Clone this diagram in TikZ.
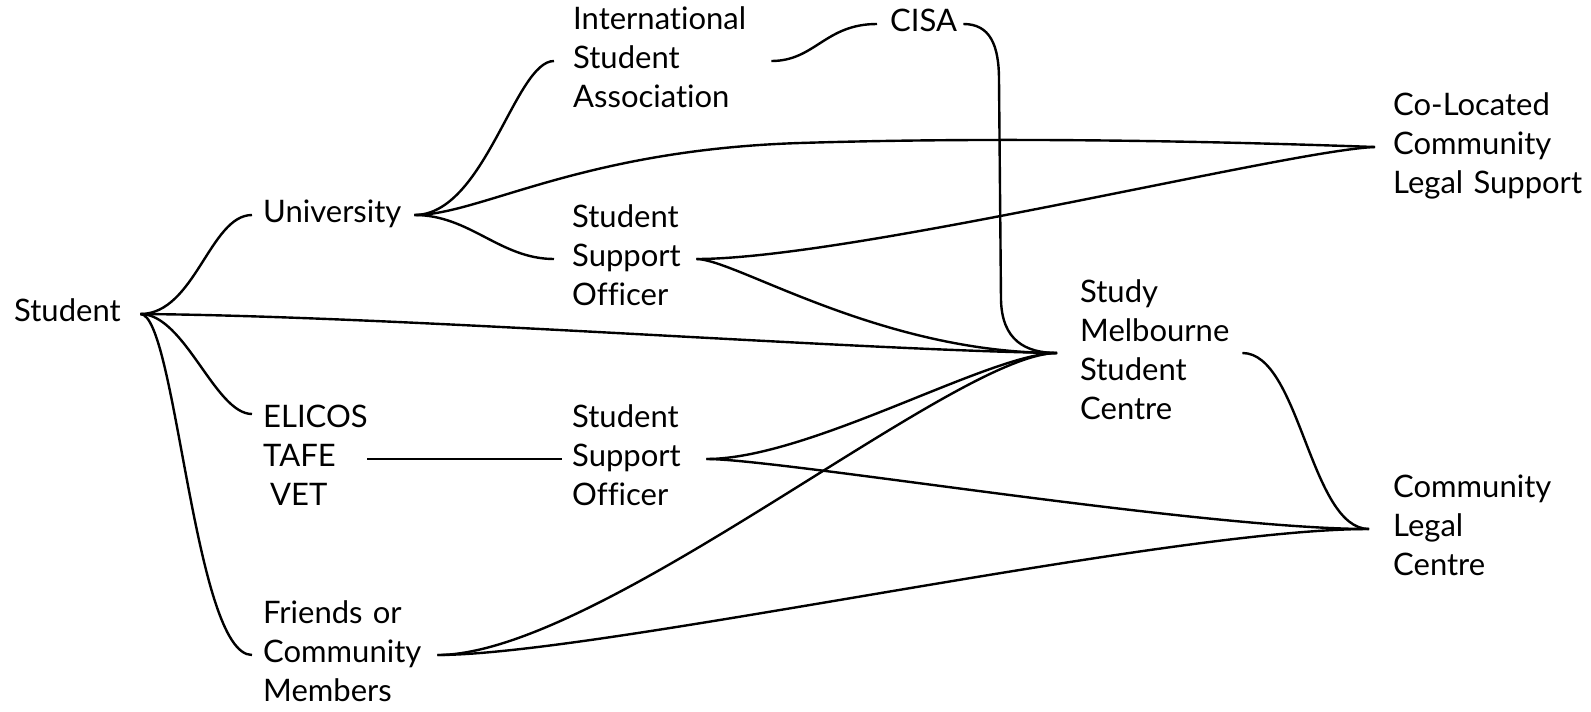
\documentclass[tikz,border=0pt]{standalone}
\usepackage{fontspec}
\setmainfont{Lato}[Ligatures={NoCommon}]
\usetikzlibrary{calc}
\begin{document}
\begin{tikzpicture}[x=1pt,y=-1pt,
  lbl/.style={anchor=west, align=left, inner ysep=0pt, font=\fontsize{31}{39}\selectfont},
  link/.style={line width=2.4pt}]
\useasboundingbox (0,0) rectangle (1591,712);
% nodes
\node[lbl, inner xsep=0pt, text width=126pt] (stu) at (14,314) {\strut Student};
\node[lbl, inner xsep=11pt, text width=140pt] (uni) at (252,215) {\strut University};
\node[lbl, inner xsep=19pt, text width=179pt] (isa) at (554,61) {\strut International\\Student\\\strut Association};
\node[lbl, inner xsep=13pt, text width=60pt] (cisa) at (877,24) {\strut CISA};
\node[lbl, inner xsep=18pt, text width=106pt] (sso1) at (554,259) {\strut Student\\Support\\\strut Officer};
\node[lbl, inner xsep=23pt, text width=139pt] (smsc) at (1057,353) {\strut Study\\Melbourne\\Student\\\strut Centre};
\node[lbl, inner xsep=18pt, text width=230pt] (col) at (1375,147) {\strut Co-Located\\Community\\\strut Legal Support};
\node[lbl, inner xsep=24pt, text width=200pt] (clc) at (1369,529) {\strut Community\\Legal\\\strut Centre};
\node[lbl, inner xsep=11pt, text width=93pt] (elicos) at (252,459) {\strut ELICOS\\TAFE\\\strut\hspace*{7pt}VET};
\node[lbl, inner xsep=10pt, text width=124pt] (sso2) at (562,459) {\strut Student\\Support\\\strut Officer};
\node[lbl, inner xsep=11pt, text width=163pt] (friends) at (252,655) {\strut Friends or\\Community\\\strut Members};
\coordinate (elicosIn) at (252,414);
\coordinate (ucMid) at (800,143);
% connectors
\draw[link] (stu.east) .. controls (195,314) and (210,215) .. (uni.west);
\draw[link] (stu.east) .. controls (400,316) and (850,350) .. (smsc.west);
\draw[link] (stu.east) .. controls (185,314) and (215,414) .. (elicosIn);
\draw[link] (stu.east) .. controls (176,314) and (194,655) .. (friends.west);
\draw[link] (uni.east) .. controls (485,215) and (515,61) .. (isa.west);
\draw[link] (uni.east) .. controls (480,215) and (580,150) .. (ucMid) .. controls (960,138) and (1150,139) .. (col.west);
\draw[link] (uni.east) .. controls (470,215) and (500,259) .. (sso1.west);
\draw[link] (isa.east) .. controls (815,61) and (825,24) .. (cisa.west);
\draw[link] (cisa.east) .. controls (990,24) and (999,45) .. (999,80) -- (1001,300) .. controls (1002,340) and (1025,353) .. (smsc.west);
\draw[link] (sso1.east) .. controls (850,259) and (1290,150) .. (col.west);
\draw[link] (sso1.east) .. controls (735,259) and (880,353) .. (smsc.west);
\draw[link] (elicos.east) -- (sso2.west);
\draw[link] (sso2.east) .. controls (810,459) and (990,353) .. (smsc.west);
\draw[link] (sso2.east) .. controls (780,459) and (1200,529) .. (clc.west);
\draw[link] (friends.east) .. controls (600,655) and (955,353) .. (smsc.west);
\draw[link] (friends.east) .. controls (600,655) and (1163,529) .. (clc.west);
\draw[link] (smsc.east) .. controls (1300,353) and (1310,529) .. (clc.west);
\end{tikzpicture}
\end{document}
